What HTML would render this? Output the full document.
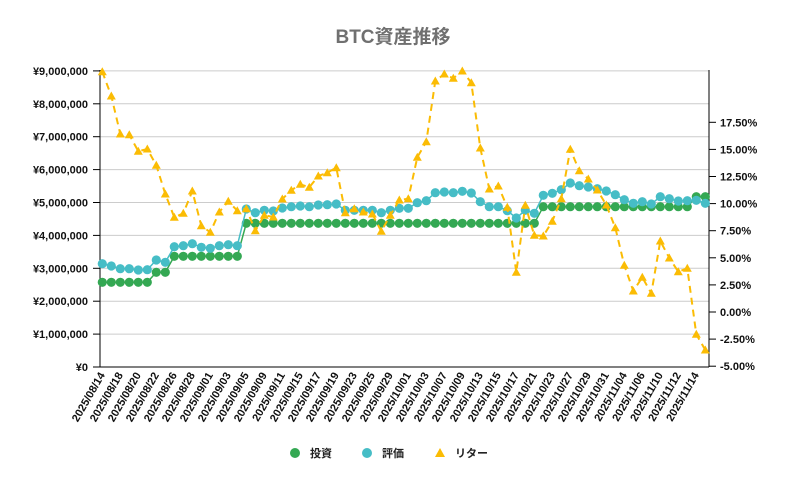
<!DOCTYPE html>
<html><head><meta charset="utf-8"><style>
body{margin:0;background:#fff;}
svg text{font-family:"Liberation Sans","Noto Sans CJK JP",sans-serif;}
</style></head><body>
<svg id="s" width="786" height="485" xmlns="http://www.w3.org/2000/svg"></svg>
<script>
const s=document.getElementById('s');
let h='';
h+='<rect width="786" height="485" fill="#fff"/>';
h+='<text x="393" y="43" text-anchor="middle" font-size="19" font-weight="bold" fill="#707070">BTC資産推移</text>';
const yl=['¥0','¥1,000,000','¥2,000,000','¥3,000,000','¥4,000,000','¥5,000,000','¥6,000,000','¥7,000,000','¥8,000,000','¥9,000,000'];
for(let k=0;k<=9;k++){const y=367-32.9*k;
 if(k>0)h+=`<line x1="100" x2="709" y1="${y}" y2="${y}" stroke="#ccc" stroke-width="1"/>`;
 h+=`<line x1="93" x2="100" y1="${y}" y2="${y}" stroke="#000"/>`;
 h+=`<text x="88" y="${y+4}" text-anchor="end" font-size="11" font-weight="bold" fill="#111">${yl[k]}</text>`;}
h+='<line x1="100" x2="100" y1="70" y2="367" stroke="#000"/><line x1="100" x2="709" y1="367" y2="367" stroke="#000"/><line x1="709" x2="709" y1="70" y2="367" stroke="#000"/>';
const rl=['-5.00%','-2.50%','0.00%','2.50%','5.00%','7.50%','10.00%','12.50%','15.00%','17.50%'];
for(let k=0;k<10;k++){const y=366.2-27.1*k;
 h+=`<line x1="709" x2="716" y1="${y}" y2="${y}" stroke="#000"/>`;
 h+=`<text x="720" y="${y+4}" font-size="11" font-weight="bold" fill="#111">${rl[k]}</text>`;}
const dates=['08/14','08/18','08/20','08/22','08/26','08/28','09/01','09/03','09/05','09/09','09/11','09/15','09/17','09/19','09/23','09/25','09/29','10/01','10/03','10/07','10/09','10/13','10/15','10/17','10/21','10/23','10/27','10/29','10/31','11/04','11/06','11/10','11/12','11/14'];
const X=i=>102.3+i*9.0;
dates.forEach((d,k)=>{const x=X(2*k)+3;h+=`<text transform="translate(${x},375) rotate(-60)" text-anchor="end" font-size="11" font-weight="bold" fill="#111">2025/${d}</text>`;});
const g=[];for(let i=0;i<68;i++){g.push(i<6?282.3:i<8?272.3:i<16?256.3:i<49?223.3:i<66?206.7:196.7);}
const t=[263.7,266,268.7,268.7,270,269.7,260,262.3,246.7,245.7,243.7,247.3,248.3,245.7,244.7,245.7,209,212.7,210.3,211,208,206.7,206,206.7,205,204.7,204,210.3,210.3,210.3,210.3,212.7,210.3,208.3,208.3,202.7,200.7,192.7,192,192.7,191.3,193,201.7,206.7,206.7,210.7,218,210.3,213.3,195.3,193.3,189.7,183,185.7,187,188.7,191,194.7,199.7,203.3,201.7,204,196.7,198.7,201,200.7,200.3,203.3];
const r=[71.7,96,134,134.7,151.3,149,165.3,194,217.3,213.3,191,225.7,232.3,212,201.3,210.7,208.7,230.7,215.3,217,199,190.3,184.3,187.3,176,172.7,167.7,212.7,208.7,212,214,231.3,215.3,200,198.7,157.3,141.7,81,74,78.3,71,82.7,148,189,186,207.3,272.3,205.3,235.3,236,221.3,198.7,149.3,170.7,179,190,205,227.7,265.3,291,277.3,293.3,241,258,271.7,268.3,334.3,350];
const pts=a=>a.map((y,i)=>X(i).toFixed(1)+','+y).join(' ');
h+=`<polyline points="${pts(g)}" fill="none" stroke="#34a853" stroke-width="1.5"/>`;
g.forEach((y,i)=>h+=`<circle cx="${X(i)}" cy="${y}" r="4.6" fill="#34a853"/>`);
h+=`<polyline points="${pts(t)}" fill="none" stroke="#46bdc6" stroke-width="1.5"/>`;
t.forEach((y,i)=>h+=`<circle cx="${X(i)}" cy="${y}" r="4.6" fill="#46bdc6"/>`);
h+=`<polyline points="${pts(r)}" fill="none" stroke="#fbbc04" stroke-width="2" stroke-dasharray="7,5"/>`;
r.forEach((y,i)=>{const x=X(i);h+=`<polygon points="${x},${y-4.5} ${x-4.5},${y+3.5} ${x+4.5},${y+3.5}" fill="#fbbc04"/>`;});
h+='<circle cx="295" cy="453" r="5" fill="#34a853"/><text x="310" y="457" font-size="11" font-weight="bold" fill="#222">投資</text>';
h+='<circle cx="367" cy="453" r="5" fill="#46bdc6"/><text x="382" y="457" font-size="11" font-weight="bold" fill="#222">評価</text>';
h+='<polygon points="440,448 435,457 445,457" fill="#fbbc04"/><text x="455" y="457" font-size="11" font-weight="bold" fill="#222">リター</text>';
s.innerHTML=h;
</script>
</body></html>
